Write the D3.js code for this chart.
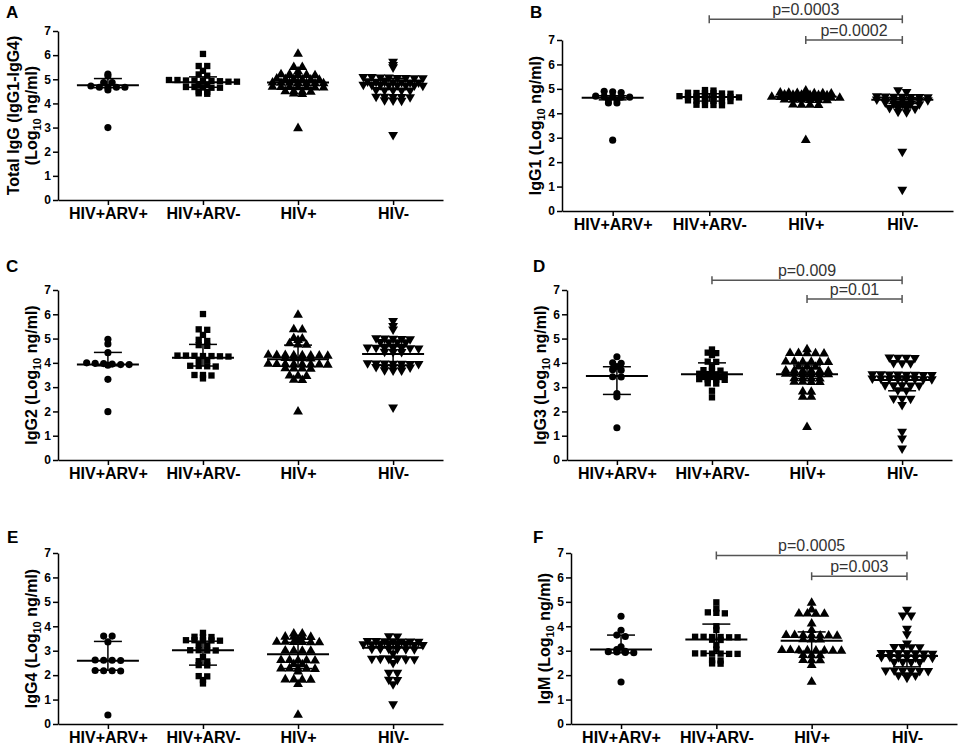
<html>
<head>
<script src="https://d3js.org/d3.v7.min.js"></script>
<style>
  body { margin: 0; background: white; }
  text { font-family: Arial, "Liberation Sans", sans-serif; }
  .axis path, .axis line { stroke: black; stroke-width: 1.5px; }
  .axis text { font-size: 12px; font-weight: bold; fill: black; }
  .cat text { font-size: 16px; }
</style>
</head>
<body>
<svg id="chart" width="963" height="747"></svg>
<script>
const groups = ["HIV+ARV+", "HIV+ARV-", "HIV+", "HIV-"];
const yTicks = [0, 1, 2, 3, 4, 5, 6, 7];

// values, log10 ng/ml
const totalIgG = [
  [5.22, 5.14, 4.86, 4.86, 4.72, 4.67, 4.67, 4.67, 4.67, 4.56, 3.0],
  [6.05, 5.55, 5.55, 5.35, 5.2, 5.15, 4.97, 4.97, 4.95, 4.95, 4.93, 4.93, 4.92, 4.9, 4.9, 4.8, 4.78, 4.68, 4.68, 4.66, 4.65, 4.65, 4.5, 4.48, 4.42, 4.4],
  [6.05, 5.5, 5.5, 5.33, 5.2, 5.2, 5.18, 5.18, 5.16, 5.02, 5.0, 5.0, 4.98, 4.98, 4.97, 4.86, 4.85, 4.85, 4.84, 4.84, 4.83, 4.83, 4.68, 4.67, 4.67, 4.66, 4.66, 4.65, 4.65, 4.5, 4.5, 4.48, 4.48, 4.4, 4.38, 2.97],
  [5.73, 5.6, 5.5, 5.1, 5.1, 5.08, 5.08, 5.06, 5.06, 5.05, 5.05, 4.92, 4.9, 4.9, 4.88, 4.88, 4.87, 4.87, 4.78, 4.77, 4.77, 4.76, 4.76, 4.75, 4.75, 4.74, 4.56, 4.55, 4.55, 4.54, 4.54, 4.28, 4.28, 4.27, 4.27, 4.26, 4.14, 4.13, 4.12, 2.7]
];
const igG1 = [
  [4.9, 4.88, 4.85, 4.7, 4.68, 4.68, 4.66, 4.66, 4.55, 4.55, 4.42, 4.42, 2.9],
  [4.95, 4.93, 4.84, 4.83, 4.82, 4.82, 4.81, 4.8, 4.7, 4.69, 4.68, 4.68, 4.67, 4.67, 4.66, 4.65, 4.53, 4.52, 4.52, 4.51, 4.5, 4.5, 4.35, 4.34, 4.34, 4.33],
  [4.93, 4.84, 4.83, 4.82, 4.82, 4.81, 4.81, 4.8, 4.76, 4.75, 4.75, 4.74, 4.74, 4.73, 4.67, 4.66, 4.66, 4.65, 4.65, 4.64, 4.64, 4.63, 4.63, 4.56, 4.55, 4.55, 4.54, 4.54, 4.53, 4.35, 4.34, 4.34, 4.33, 2.9],
  [4.95, 4.88, 4.7, 4.69, 4.68, 4.68, 4.67, 4.67, 4.66, 4.57, 4.56, 4.56, 4.55, 4.55, 4.54, 4.54, 4.45, 4.4, 4.39, 4.39, 4.38, 4.37, 4.37, 4.22, 4.21, 4.2, 4.19, 4.07, 4.05, 2.43, 0.88]
];
const igG2 = [
  [4.97, 4.78, 4.42, 4.0, 3.98, 3.97, 3.95, 3.93, 3.93, 3.9, 3.32, 1.99],
  [6.01, 5.38, 5.36, 5.15, 4.95, 4.9, 4.73, 4.7, 4.3, 4.3, 4.29, 4.28, 4.28, 4.27, 4.26, 4.12, 4.1, 3.88, 3.87, 3.86, 3.85, 3.5, 3.5, 3.48, 3.36],
  [5.97, 5.38, 5.37, 5.02, 5.0, 4.93, 4.8, 4.75, 4.74, 4.33, 4.32, 4.32, 4.31, 4.31, 4.3, 4.3, 4.29, 4.19, 4.18, 4.18, 4.17, 3.96, 3.95, 3.95, 3.94, 3.94, 3.93, 3.93, 3.92, 3.77, 3.76, 3.76, 3.75, 3.47, 3.46, 3.45, 3.3, 3.29, 1.99],
  [5.73, 5.52, 5.38, 5.02, 5.01, 5.0, 4.99, 4.98, 4.87, 4.86, 4.86, 4.85, 4.64, 4.63, 4.63, 4.62, 4.62, 4.61, 4.6, 4.46, 4.45, 4.45, 3.99, 3.98, 3.98, 3.97, 3.97, 3.96, 3.96, 3.84, 3.83, 3.83, 3.82, 3.82, 3.7, 3.69, 3.69, 2.17]
];
const igG3 = [
  [4.25, 4.0, 3.98, 3.85, 3.72, 3.7, 3.43, 3.42, 2.74, 2.6, 1.33],
  [4.55, 4.42, 4.4, 4.32, 4.05, 4.04, 3.84, 3.7, 3.68, 3.68, 3.55, 3.54, 3.53, 3.52, 3.45, 3.43, 3.42, 3.33, 3.32, 3.31, 3.3, 3.16, 3.15, 2.85, 2.58],
  [4.55, 4.4, 4.4, 4.39, 4.39, 4.38, 4.05, 4.05, 4.04, 4.04, 4.03, 4.03, 3.84, 3.84, 3.83, 3.68, 3.68, 3.67, 3.67, 3.66, 3.66, 3.54, 3.54, 3.53, 3.53, 3.52, 3.52, 3.36, 3.36, 3.35, 3.35, 3.22, 3.22, 3.21, 3.21, 2.81, 2.8, 2.6, 2.6, 1.35],
  [4.23, 4.22, 4.22, 4.21, 4.0, 3.99, 3.99, 3.54, 3.54, 3.53, 3.53, 3.52, 3.52, 3.51, 3.51, 3.36, 3.36, 3.35, 3.35, 3.34, 3.34, 3.33, 3.33, 3.09, 3.08, 3.08, 3.07, 3.07, 2.88, 2.87, 2.54, 2.53, 2.53, 2.27, 1.17, 0.89, 0.48]
];
const igG4 = [
  [3.6, 3.6, 3.36, 2.62, 2.61, 2.61, 2.6, 2.19, 2.18, 2.18, 2.17, 0.37],
  [3.73, 3.57, 3.56, 3.56, 3.43, 3.43, 3.42, 3.42, 3.41, 3.23, 3.22, 3.02, 3.02, 3.01, 3.01, 2.75, 2.57, 2.56, 2.41, 2.4, 1.96, 1.95, 1.8, 1.66],
  [3.7, 3.7, 3.57, 3.57, 3.56, 3.56, 3.46, 3.36, 3.36, 3.35, 3.35, 3.34, 3.34, 3.0, 3.0, 2.99, 2.99, 2.61, 2.61, 2.6, 2.6, 2.59, 2.45, 2.44, 2.27, 2.27, 2.26, 2.26, 2.25, 2.14, 1.82, 1.82, 1.81, 1.81, 1.63, 0.37],
  [3.6, 3.59, 3.4, 3.4, 3.39, 3.39, 3.38, 3.38, 3.37, 3.27, 3.27, 3.26, 3.26, 3.25, 3.25, 3.24, 3.24, 3.09, 3.09, 3.08, 3.08, 3.07, 3.07, 2.89, 2.68, 2.68, 2.67, 2.67, 2.66, 2.66, 2.5, 2.1, 2.1, 1.82, 1.81, 1.63, 0.82]
];
const igM = [
  [4.41, 3.84, 3.64, 3.58, 3.16, 3.05, 2.98, 2.96, 2.95, 2.93, 2.92, 1.72],
  [4.98, 4.73, 4.57, 4.55, 4.53, 4.0, 3.85, 3.57, 3.57, 3.56, 3.56, 3.55, 3.55, 3.45, 3.44, 3.23, 3.05, 2.89, 2.89, 2.88, 2.88, 2.87, 2.87, 2.61, 2.6, 2.48, 2.47],
  [4.96, 4.68, 4.52, 4.52, 4.51, 4.51, 4.11, 3.84, 3.64, 3.64, 3.63, 3.63, 3.62, 3.62, 3.61, 3.46, 3.45, 3.45, 3.02, 3.02, 3.01, 3.01, 3.0, 3.0, 2.99, 2.99, 2.82, 2.81, 2.81, 2.61, 2.6, 2.6, 2.41, 1.72],
  [4.68, 4.45, 4.45, 3.91, 3.68, 3.3, 3.16, 3.16, 3.15, 3.15, 2.91, 2.91, 2.9, 2.9, 2.89, 2.89, 2.88, 2.75, 2.75, 2.74, 2.74, 2.73, 2.73, 2.72, 2.55, 2.55, 2.54, 2.54, 2.2, 2.2, 2.19, 2.19, 2.18, 2.18, 2.0, 2.0, 1.99, 1.9]
];

// median, q1, q3 per group
const totalIgGStats = [[4.75, 4.65, 5.03], [4.88, 4.67, 5.1], [4.87, 4.67, 5.08], [4.8, 4.58, 5.04]];
const igG1Stats = [[4.64, 4.55, 4.72], [4.67, 4.5, 4.8], [4.68, 4.53, 4.78], [4.55, 4.4, 4.63]];
const igG2Stats = [[3.93, 3.88, 4.43], [4.21, 3.87, 4.76], [4.15, 3.84, 4.73], [4.36, 3.9, 4.76]];
const igG3Stats = [[3.46, 2.7, 3.84], [3.53, 3.32, 4.0], [3.53, 3.36, 3.91], [3.29, 2.85, 3.46]];
const igG4Stats = [[2.59, 2.2, 3.38], [3.02, 2.41, 3.39], [2.86, 2.27, 3.34], [3.12, 2.78, 3.38]];
const igMStats = [[3.05, 2.91, 3.64], [3.46, 2.89, 4.09], [3.41, 2.91, 3.77], [2.78, 2.34, 2.98]];

// significance: [from group, to group, bracket level, label]
const igG1Pvals = [["HIV+ARV-", "HIV-", 7.85, "p=0.0003"], ["HIV+", "HIV-", 7.0, "p=0.0002"]];
const igG3Pvals = [["HIV+ARV-", "HIV-", 7.4, "p=0.009"], ["HIV+", "HIV-", 6.63, "p=0.01"]];
const igMPvals = [["HIV+ARV-", "HIV-", 6.9, "p=0.0005"], ["HIV+", "HIV-", 6.05, "p=0.003"]];

const panels = [
  { letter: "A", values: totalIgG, stats: totalIgGStats, pvals: [], title: "Total IgG (IgG1-IgG4)", pre: "(Log",
    x0: 58, x1: 443, top: 31, bottom: 200, lx: 6, ly: 18 },
  { letter: "B", values: igG1, stats: igG1Stats, pvals: igG1Pvals, pre: "IgG1 (Log",
    x0: 562, x1: 953, top: 40, bottom: 211, lx: 530, ly: 18 },
  { letter: "C", values: igG2, stats: igG2Stats, pvals: [], pre: "IgG2 (Log",
    x0: 58, x1: 443, top: 290, bottom: 460, lx: 6, ly: 272 },
  { letter: "D", values: igG3, stats: igG3Stats, pvals: igG3Pvals, pre: "IgG3 (Log",
    x0: 567, x1: 952, top: 290, bottom: 460, lx: 533, ly: 272 },
  { letter: "E", values: igG4, stats: igG4Stats, pvals: [], pre: "IgG4 (Log",
    x0: 58, x1: 443, top: 553, bottom: 724, lx: 7, ly: 543 },
  { letter: "F", values: igM, stats: igMStats, pvals: igMPvals, pre: "IgM (Log",
    x0: 571, x1: 957, top: 553, bottom: 724, lx: 533, ly: 543 }
];

const symbols = [
  d3.symbol().type(d3.symbolCircle).size(40)(),
  d3.symbol().type(d3.symbolSquare).size(40)(),
  d3.symbol().type(d3.symbolTriangle).size(42)(),
  d3.symbol().type(d3.symbolTriangle).size(42)()
];

const svg = d3.select("#chart");

// rows of near-equal values spread sideways, as in a column scatter plot
function spread(vals, gap) {
  const sorted = vals.slice().sort((a, b) => b - a);
  const rows = [];
  sorted.forEach(v => {
    const last = rows[rows.length - 1];
    if (last && last[0] - v <= 0.075) last.push(v);
    else rows.push([v]);
  });
  const out = [];
  rows.forEach(r => r.forEach((v, k) => out.push({ v: v, dx: (k - (r.length - 1) / 2) * gap })));
  return out;
}

panels.forEach(pn => {
  const g = svg.append("g");
  const x = d3.scalePoint().domain(groups).range([pn.x0, pn.x1]).padding(0.525);
  const y = d3.scaleLinear().domain([0, 7]).range([pn.bottom, pn.top]);

  g.append("text").attr("x", pn.lx).attr("y", pn.ly)
    .style("font-size", "17px").style("font-weight", "bold").text(pn.letter);

  g.append("g").attr("class", "axis")
    .attr("transform", "translate(" + pn.x0 + ",0)")
    .call(d3.axisLeft(y).tickValues(yTicks).tickFormat(d3.format("d")).tickSize(5).tickSizeOuter(0).tickPadding(2));

  g.append("g").attr("class", "axis cat")
    .attr("transform", "translate(0," + pn.bottom + ")")
    .call(d3.axisBottom(x).tickSize(5).tickSizeOuter(0).tickPadding(3));

  // y label
  const lab = g.append("text")
    .attr("transform", "translate(" + (pn.x0 - 21) + "," + ((pn.top + pn.bottom) / 2) + ") rotate(-90)")
    .attr("text-anchor", "middle")
    .style("font-size", "16px").style("font-weight", "bold");
  lab.append("tspan").text(pn.pre);
  lab.append("tspan").attr("dy", 4).style("font-size", "11px").text("10");
  lab.append("tspan").attr("dy", -4).text(" ng/ml)");
  if (pn.title) {
    g.append("text")
      .attr("transform", "translate(" + (pn.x0 - 39) + "," + ((pn.top + pn.bottom) / 2) + ") rotate(-90)")
      .attr("text-anchor", "middle")
      .style("font-size", "16px").style("font-weight", "bold")
      .text(pn.title);
  }

  // points
  pn.values.forEach((vals, i) => {
    const cx = x(groups[i]);
    g.append("g").selectAll("path").data(spread(vals, 8.5)).join("path")
      .attr("d", symbols[i])
      .attr("transform", d => "translate(" + (cx + d.dx) + "," + y(d.v) + ")" + (i === 3 ? " rotate(180)" : ""))
      .attr("fill", "black");
  });

  // median and interquartile range
  pn.stats.forEach((s, i) => {
    const cx = x(groups[i]);
    g.append("line").attr("x1", cx - 31).attr("x2", cx + 31)
      .attr("y1", y(s[0])).attr("y2", y(s[0])).attr("stroke", "black").attr("stroke-width", 2);
    g.append("line").attr("x1", cx).attr("x2", cx)
      .attr("y1", y(s[1])).attr("y2", y(s[2])).attr("stroke", "black").attr("stroke-width", 1.5);
    [s[1], s[2]].forEach(q => {
      g.append("line").attr("x1", cx - 14).attr("x2", cx + 14)
        .attr("y1", y(q)).attr("y2", y(q)).attr("stroke", "black").attr("stroke-width", 1.5);
    });
  });

  // significance brackets
  pn.pvals.forEach(p => {
    const xa = x(p[0]), xb = x(p[1]), yy = y(p[2]);
    g.append("path")
      .attr("d", "M" + xa + "," + (yy - 4) + "V" + (yy + 4) + "M" + xa + "," + yy + "H" + xb +
        "M" + xb + "," + (yy - 4) + "V" + (yy + 4))
      .attr("stroke", "#555").attr("stroke-width", 1.5).attr("fill", "none");
    g.append("text").attr("x", (xa + xb) / 2).attr("y", yy - 4)
      .attr("text-anchor", "middle").style("font-size", "16px").attr("fill", "#333")
      .text(p[3]);
  });
});
</script>
</body>
</html>
